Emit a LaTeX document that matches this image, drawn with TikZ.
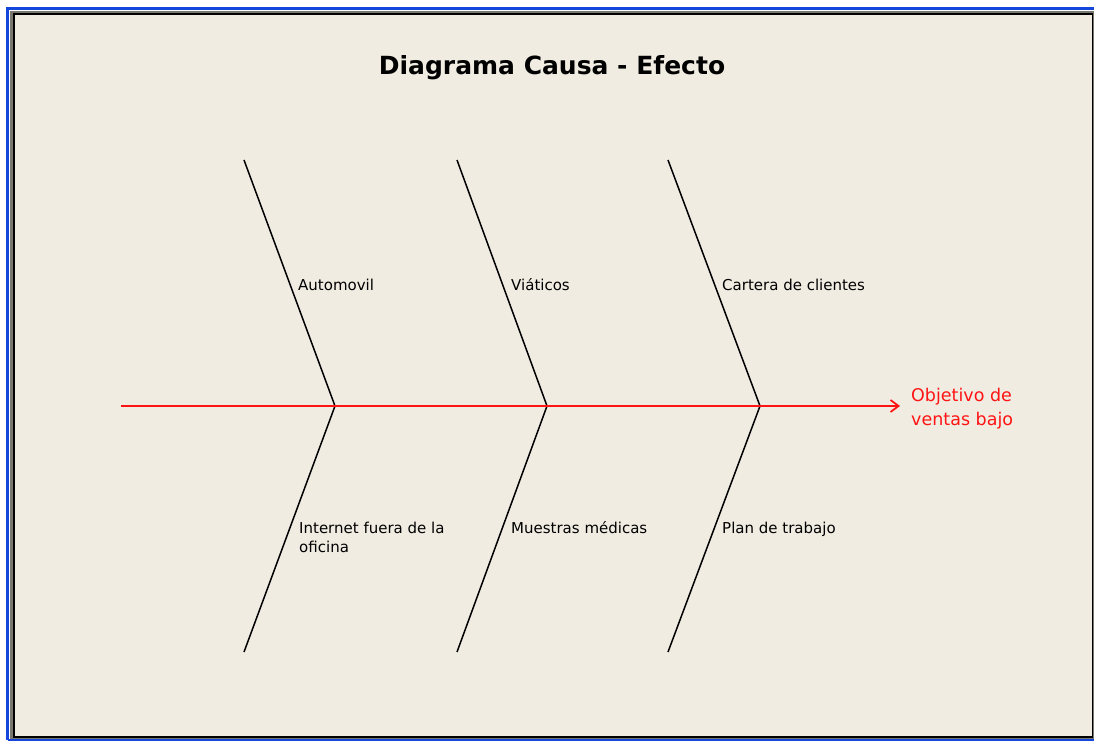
\documentclass[tikz,border=0pt]{standalone}
\usepackage{fontspec}
\setmainfont{DejaVu Sans}
\usetikzlibrary{arrows.meta}
\definecolor{bgbeige}{RGB}{240,236,226}
\definecolor{xpblue}{RGB}{20,70,220}
\definecolor{framegray}{RGB}{120,120,112}
\definecolor{spinered}{RGB}{255,20,20}
\tikzset{
  bone/.style={line width=1.5pt, black},
  spine/.style={line width=2pt, spinered, -{Straight Barb[length=8pt,width=12pt,line width=1.8pt]}},
  cause/.style={font=\fontsize{15}{19}\selectfont, inner sep=0pt, anchor=base west, align=left},
  effect/.style={font=\fontsize{17.5}{24}\selectfont, text=spinered, inner sep=0pt, anchor=base west, align=left},
  titletext/.style={font=\bfseries\fontsize{25}{30}\selectfont, inner sep=0pt, anchor=base},
}
\begin{document}
\begin{tikzpicture}[x=1pt,y=-1pt]
\useasboundingbox (0,0) rectangle (1094,743);
\fill[white] (0,0) rectangle (1094,743);
% window frame
\draw[xpblue, line width=2.5pt] (7.5,740) -- (7.5,8.5) -- (1094,8.5);
\draw[xpblue, line width=2.5pt] (7.5,740) -- (1094,740);
\fill[framegray] (10,11) rectangle (1094,739);
\fill[black] (13,13.5) rectangle (1093,737.5);
\fill[bgbeige] (14.5,15) rectangle (1092,736);
% title
\node[titletext] (title) at (552,75) {Diagrama Causa - Efecto};
% coordinates of the fishbone
\coordinate (s0) at (121,406);
\coordinate (head) at (900,406);
\coordinate (t1) at (244,160); \coordinate (v1) at (335,406); \coordinate (b1) at (244,652);
\coordinate (t2) at (457,160); \coordinate (v2) at (547,406); \coordinate (b2) at (457,652);
\coordinate (t3) at (668,160); \coordinate (v3) at (760,406); \coordinate (b3) at (668,652);
% bones
\draw[bone] (t1) -- (v1) -- (b1);
\draw[bone] (t2) -- (v2) -- (b2);
\draw[bone] (t3) -- (v3) -- (b3);
% spine
\draw[spine] (s0) -- (head);
% labels
\node[cause] (c1) at (298,290) {Automovil};
\node[cause] (c2) at (511,290) {Viáticos};
\node[cause] (c3) at (722,290) {Cartera de clientes};
\node[cause] (c4) at (299,552) {Internet fuera de la\\oficina};
\node[cause] (c5) at (511,533) {Muestras médicas};
\node[cause] (c6) at (722,533) {Plan de trabajo};
\node[effect] (eff) at (911,425) {Objetivo de\\ventas bajo};
\end{tikzpicture}
\end{document}
